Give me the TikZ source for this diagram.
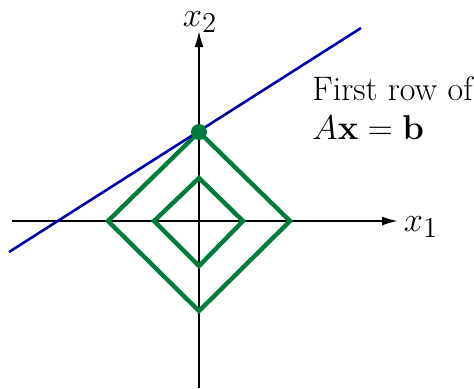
\documentclass[tikz,border=0pt]{standalone}
\usetikzlibrary{arrows.meta}
\definecolor{dgreen}{RGB}{0,125,60}
\definecolor{dblue}{RGB}{0,0,170}
\begin{document}
\begin{tikzpicture}[x=0.5pt,y=-0.5pt,
  axis/.style={line width=1pt,-{Latex[length=8pt,width=4.5pt]}},
  ball/.style={line width=2.2pt,draw=dgreen,line join=miter},
  lbl/.style={font=\fontsize{19}{22}\selectfont,inner sep=0pt}]
\useasboundingbox (0,0) rectangle (474,388);
\coordinate (xl) at (12,221);
\coordinate (xr) at (398,221);
\coordinate (yb) at (199,388);
\coordinate (yt) at (199,31);
\draw[axis] (xl) -- (xr);
\draw[axis] (yb) -- (yt);
\node[lbl] (x1) at (421,227) {$x_1$};
\node[lbl] (x2) at (200,22) {$x_2$};
\draw[ball] (108,221) -- (199,132) -- (290,221) -- (199,311) -- cycle;
\draw[ball] (154,221) -- (199,178) -- (243,221) -- (199,266) -- cycle;
\coordinate (la) at (9,252);
\coordinate (lb) at (361,28);
\draw[dblue,line width=1.3pt] (la) -- (lb);
\node[circle,fill=dgreen,inner sep=0pt,minimum size=8pt] (dot) at (199,132) {};
\node[anchor=north west,align=left,font=\fontsize{17}{19.5}\selectfont,inner sep=0pt] (txt) at (312,76)
  {First row of\\ $A\mathbf{x}=\mathbf{b}$};
\end{tikzpicture}
\end{document}
